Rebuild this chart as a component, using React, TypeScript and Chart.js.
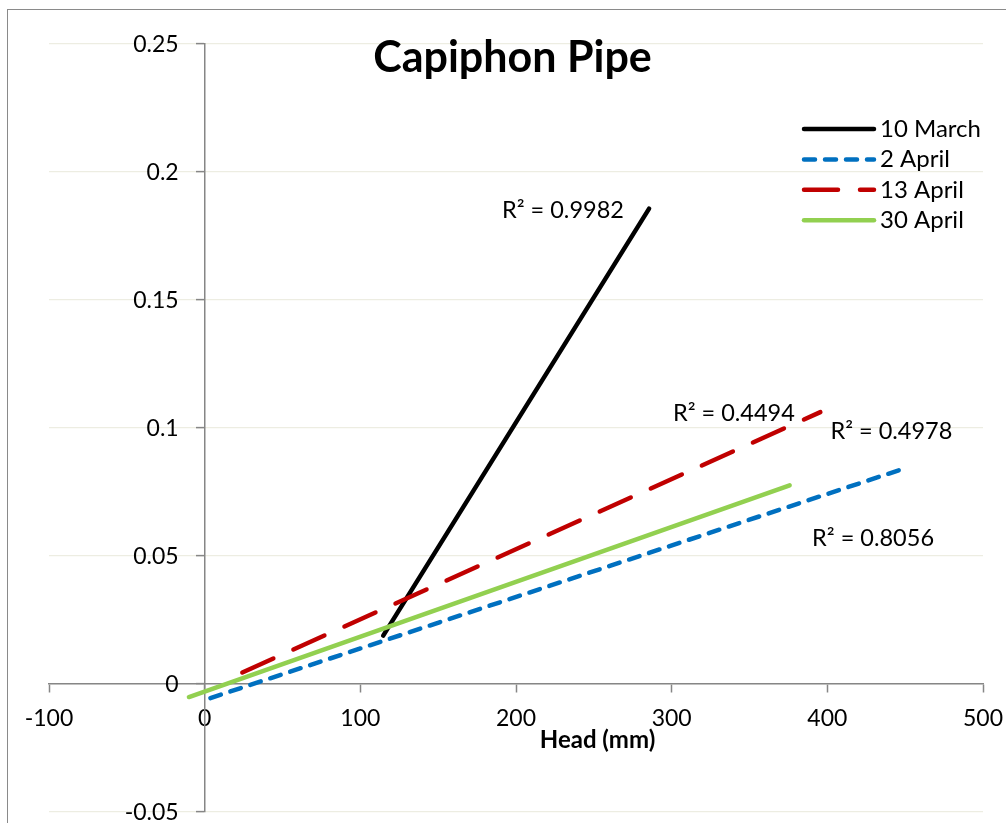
import React, { useEffect, useRef } from "react";
import { Chart, registerables } from "chart.js";

Chart.register(...registerables);

// ---- data ----
const seriesNames = ["10 March", "2 April", "13 April", "30 April"];
const headStart = [114.7, 3.7, 24.2, -10.1];
const headEnd = [285.5, 449.0, 395.5, 375.8];
const flowStart = [0.0189, -0.0055, 0.0045, -0.0051];
const flowEnd = [0.1857, 0.0841, 0.1062, 0.0776];
const r2Labels = ["R² = 0.9982", "R² = 0.8056", "R² = 0.4494", "R² = 0.4978"];
const xTickValues = [-100, 0, 100, 200, 300, 400, 500];
const yTickValues = [-0.05, 0, 0.05, 0.1, 0.15, 0.2, 0.25];
const chartTitle = "Capiphon Pipe";
const xAxisTitle = "Head (mm)";

// ---- styles ----
const seriesColors = ["#000000", "#0070C0", "#C00000", "#92D050"];
const seriesDashes: number[][] = [[], [11, 10], [34, 22], []];
const r2Anchors = [
  { x: 191.0, y: 0.1849 },
  { x: 390.2, y: 0.057 },
  { x: 300.8, y: 0.1056 },
  { x: 402.0, y: 0.0987 },
];
const FONT = "Lato, 'Noto Sans', sans-serif";
const AXIS_COLOR = "#868686";
const GRID_COLOR = "#EDEDE2";
const TICK_FONT_SIZE = 23;
const CANVAS_W = 1020;
const CANVAS_H = 860;

const formatY = (v: number) => String(Math.round(v * 100) / 100);

const framePlugin = {
  id: "frame",
  beforeDraw(chart: any) {
    const ctx = chart.ctx;
    ctx.save();
    ctx.fillStyle = "#ffffff";
    ctx.fillRect(0, 0, chart.width, chart.height);
    ctx.strokeStyle = "#8a8a8a";
    ctx.lineWidth = 1;
    ctx.strokeRect(7.5, 9.5, chart.width + 200, chart.height + 200);
    ctx.restore();
  },
};

const overlayPlugin = {
  id: "overlay",
  afterDraw(chart: any) {
    const ctx = chart.ctx;
    const xs = chart.scales.x;
    const ys = chart.scales.y;
    ctx.save();
    // y tick labels (left of the axis crossing at x = 0)
    ctx.fillStyle = "#000";
    ctx.font = `${TICK_FONT_SIZE}px ${FONT}`;
    ctx.textAlign = "right";
    ctx.textBaseline = "middle";
    const axisX = xs.getPixelForValue(0);
    ys.ticks.forEach((t: any) => {
      ctx.fillText(formatY(t.value), axisX - 26, ys.getPixelForValue(t.value) + 1);
    });
    // title
    ctx.font = `bold 43px ${FONT}`;
    ctx.textAlign = "center";
    ctx.textBaseline = "alphabetic";
    ctx.fillText(chartTitle, 512.5, 72);
    // x axis title
    ctx.font = `bold 24px ${FONT}`;
    ctx.fillText(xAxisTitle, 597.5, 748);
    // R² labels
    ctx.font = `23.5px ${FONT}`;
    ctx.textAlign = "left";
    ctx.textBaseline = "middle";
    r2Labels.forEach((t, i) => {
      const a = r2Anchors[i];
      ctx.fillText(t, xs.getPixelForValue(a.x), ys.getPixelForValue(a.y));
    });
    // legend
    const lx0 = 804, lx1 = 874, tx = 880, rowY0 = 129, rowGap = 30.4;
    chart.data.datasets.forEach((ds: any, i: number) => {
      const y = rowY0 + i * rowGap;
      ctx.beginPath();
      ctx.strokeStyle = ds.borderColor;
      ctx.lineWidth = ds.borderWidth;
      ctx.lineCap = "round";
      ctx.setLineDash(ds.borderDash || []);
      ctx.moveTo(lx0, y);
      ctx.lineTo(lx1, y);
      ctx.stroke();
      ctx.setLineDash([]);
      ctx.fillStyle = "#000";
      ctx.font = `24px ${FONT}`;
      ctx.textAlign = "left";
      ctx.textBaseline = "middle";
      ctx.fillText(ds.label, tx, y);
    });
    ctx.restore();
  },
};

export default function App() {
  const ref = useRef<HTMLCanvasElement | null>(null);

  useEffect(() => {
    if (!ref.current) return;
    Chart.defaults.font.family = FONT;
    const datasets = seriesNames.map((name, i) => ({
      label: name,
      data: [
        { x: headStart[i], y: flowStart[i] },
        { x: headEnd[i], y: flowEnd[i] },
      ],
      showLine: true,
      borderColor: seriesColors[i],
      backgroundColor: seriesColors[i],
      borderWidth: 4.5,
      borderDash: seriesDashes[i],
      borderCapStyle: "round" as const,
      pointRadius: 0,
      order: seriesNames.length - i,
    }));

    const chart = new Chart(ref.current, {
      type: "scatter",
      data: { datasets },
      plugins: [framePlugin, overlayPlugin],
      options: {
        animation: false,
        responsive: false,
        devicePixelRatio: 1,
        layout: {
          padding: { left: 49, right: CANVAS_W - 983, top: 44, bottom: CANVAS_H - 812 },
        },
        plugins: {
          legend: { display: false },
          title: { display: false },
          tooltip: { enabled: false },
        },
        scales: {
          x: {
            type: "linear",
            position: { y: 0 } as any,
            min: xTickValues[0],
            max: xTickValues[xTickValues.length - 1],
            afterBuildTicks: (s: any) => {
              s.ticks = xTickValues.map((v) => ({ value: v }));
            },
            grid: {
              drawOnChartArea: false,
              drawTicks: true,
              tickLength: 8,
              tickColor: AXIS_COLOR,
              tickWidth: 1.5,
            },
            border: { color: AXIS_COLOR, width: 1.5 },
            ticks: {
              color: "#000",
              font: { size: TICK_FONT_SIZE, family: FONT },
              padding: 13,
              maxRotation: 0,
              autoSkip: false,
            },
          },
          y: {
            type: "linear",
            position: { x: 0 } as any,
            min: yTickValues[0],
            max: yTickValues[yTickValues.length - 1],
            afterBuildTicks: (s: any) => {
              s.ticks = yTickValues.map((v) => ({ value: v }));
            },
            grid: {
              drawOnChartArea: true,
              color: GRID_COLOR,
              lineWidth: 1.2,
              drawTicks: true,
              tickLength: 8,
              tickColor: AXIS_COLOR,
              tickWidth: 1.5,
            },
            border: { color: AXIS_COLOR, width: 1.5 },
            ticks: { display: false },
          },
        },
      },
    });
    return () => chart.destroy();
  }, []);

  return (
    <div
      style={{
        position: "fixed",
        left: 0,
        top: 0,
        width: 1006,
        height: 823,
        overflow: "hidden",
        background: "#fff",
      }}
    >
      <canvas ref={ref} width={CANVAS_W} height={CANVAS_H} style={{ display: "block" }} />
    </div>
  );
}
